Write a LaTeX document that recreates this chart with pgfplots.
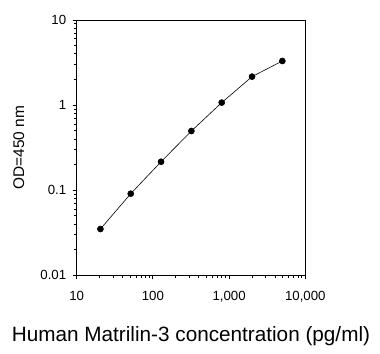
\documentclass[border=0pt]{standalone}
\usepackage{pgfplots}
\pgfplotsset{compat=1.18}
\usepackage{fontspec}
\setmainfont{Liberation Sans}
\begin{document}
\begin{tikzpicture}[x=1bp,y=1bp]
\begin{axis}[
  at={(0,0)}, anchor=south west,
  scale only axis,
  width=228.6bp, height=255.3bp,
  xmode=log, ymode=log,
  xmin=10, xmax=10000, ymin=0.01, ymax=10,
  xtick={10,100,1000,10000},
  xticklabels={10,100,{1,000},{10,000}},
  ytick={0.01,0.1,1,10},
  yticklabels={0.01,0.1,1,10},
  minor tick num=0,
  tick align=outside,
  major tick length=4bp,
  xtick pos=bottom, ytick pos=left,
  axis line style={black, line width=0.8bp},
  every tick/.style={black, line width=0.8bp},
  ticklabel style={font=\fontsize{13.3}{15}\selectfont},
  xticklabel style={yshift=-8bp},
  yticklabel style={xshift=-3bp},
  /pgf/number format/assume math mode=true,
  xlabel={Human Matrilin-3 concentration (pg/ml)},
  ylabel={OD=450 nm},
  xlabel style={font=\fontsize{20.8}{24}\selectfont, at={(axis description cs:0.5,0)}, anchor=center, yshift=-61bp},
  ylabel style={font=\fontsize{15.5}{18}\selectfont, at={(axis description cs:0,0.5)}, anchor=center, yshift=58bp},
]
\addplot[black, line width=0.6bp, mark=*, mark size=3bp, mark options={fill=black}]
  coordinates {
    (20.48,0.035)
    (51.2,0.091)
    (128,0.216)
    (320,0.496)
    (800,1.07)
    (2000,2.16)
    (5000,3.3)
  };
\end{axis}
\path[use as bounding box] (-76.7,-78.7) rectangle (303.3,275.3);
\end{tikzpicture}
\end{document}
